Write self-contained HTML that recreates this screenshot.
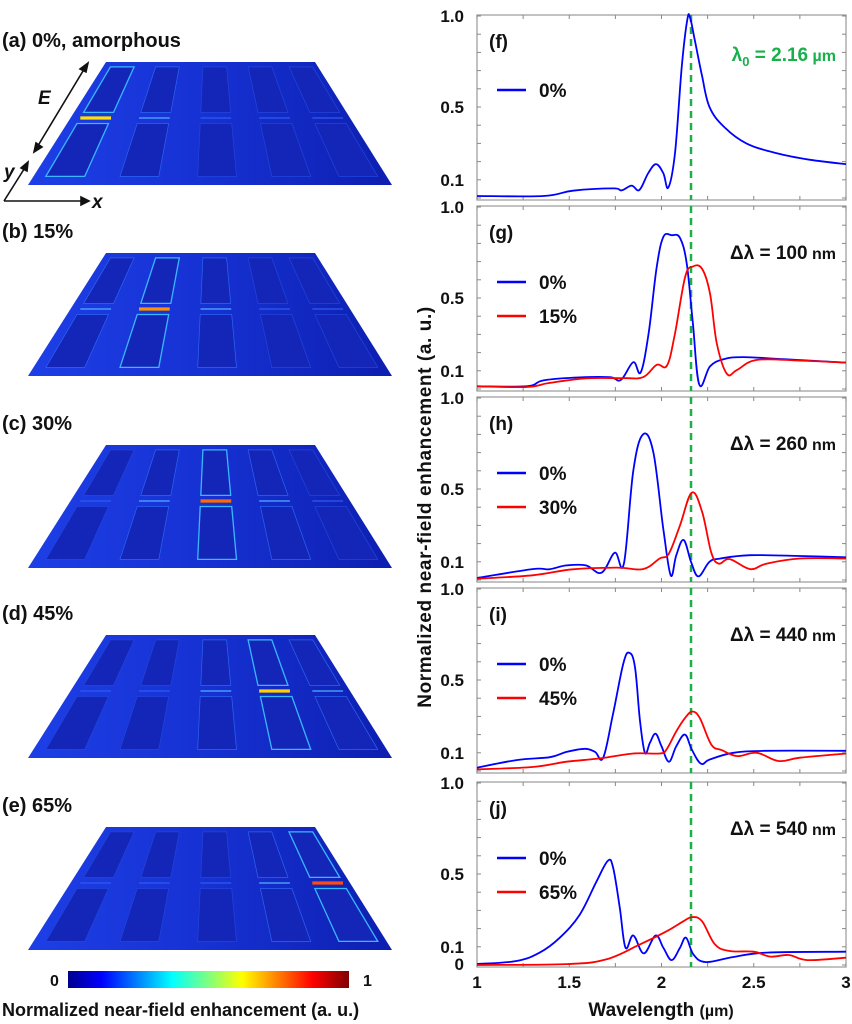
<!DOCTYPE html>
<html><head><meta charset="utf-8"><style>
html,body{margin:0;padding:0;background:#fff;}
svg{display:block;font-family:"Liberation Sans",Arial,sans-serif;font-weight:bold;}
</style></head><body>
<svg id="fig" width="852" height="1024" viewBox="0 0 852 1024" xmlns="http://www.w3.org/2000/svg">
<defs>
<linearGradient id="plate" x1="0" y1="0" x2="1" y2="0">
<stop offset="0" stop-color="#1d3fe6"/><stop offset="0.5" stop-color="#1631d2"/><stop offset="1" stop-color="#0d1fb0"/>
</linearGradient>
<linearGradient id="cbar" x1="0" y1="0" x2="1" y2="0">
<stop offset="0" stop-color="#00008f"/><stop offset="0.12" stop-color="#0000ff"/><stop offset="0.37" stop-color="#00ffff"/><stop offset="0.5" stop-color="#7fff7f"/><stop offset="0.62" stop-color="#ffff00"/><stop offset="0.87" stop-color="#ff0000"/><stop offset="1" stop-color="#800000"/>
</linearGradient>
</defs>
<g id="left"></g>
<g id="right"></g>
</svg>
<script>
// ---- spectral data (wavelength µm, normalized enhancement) ----
const fX0=[1,1.36,1.52,1.74,1.784,1.838,1.88,1.928,1.97,2.01,2.037,2.073,2.11,2.14,2.155,2.18,2.22,2.26,2.34,2.46,2.625,2.806,3.0];
const fY0=[0.011,0.011,0.04,0.053,0.042,0.068,0.044,0.136,0.186,0.136,0.057,0.246,0.724,0.98,0.99,0.87,0.67,0.50,0.39,0.30,0.246,0.21,0.186];
const gX0=[1,1.27,1.36,1.557,1.72,1.78,1.847,1.887,1.93,1.974,2.01,2.055,2.10,2.137,2.17,2.205,2.263,2.336,2.444,2.66,3.0];
const gY0=[0.015,0.015,0.047,0.064,0.065,0.05,0.147,0.091,0.305,0.67,0.835,0.845,0.83,0.687,0.36,0.024,0.124,0.164,0.175,0.164,0.145];
const gX15=[1,1.27,1.39,1.59,1.79,1.90,1.974,2.03,2.073,2.128,2.17,2.22,2.263,2.30,2.354,2.41,2.517,2.75,3.0];
const gY15=[0.015,0.011,0.033,0.058,0.06,0.065,0.133,0.129,0.305,0.615,0.673,0.66,0.524,0.25,0.084,0.105,0.16,0.156,0.145];
const hX0=[1,1.30,1.39,1.485,1.59,1.675,1.747,1.796,1.847,1.90,1.956,2.01,2.05,2.08,2.12,2.16,2.20,2.26,2.32,2.48,2.75,3.0];
const hY0=[0.011,0.06,0.059,0.08,0.08,0.04,0.15,0.09,0.6,0.80,0.70,0.28,0.026,0.136,0.22,0.10,0.02,0.10,0.118,0.136,0.132,0.125];
const hX30=[1,1.3,1.52,1.757,1.90,1.99,2.04,2.10,2.164,2.22,2.27,2.31,2.37,2.48,2.57,2.75,3.0];
const hY30=[0.007,0.026,0.059,0.068,0.06,0.118,0.145,0.30,0.48,0.375,0.15,0.09,0.115,0.06,0.09,0.118,0.118];
const iX0=[1,1.214,1.395,1.485,1.585,1.64,1.684,1.738,1.793,1.825,1.856,1.883,1.91,1.937,1.968,2.0,2.04,2.08,2.127,2.164,2.214,2.263,2.39,2.57,3.0];
const iY0=[0.018,0.06,0.076,0.105,0.122,0.105,0.073,0.318,0.59,0.65,0.573,0.28,0.1,0.155,0.205,0.136,0.051,0.136,0.2,0.118,0.04,0.064,0.1,0.111,0.111];
const iX45=[1,1.30,1.485,1.666,1.847,1.99,2.027,2.08,2.127,2.167,2.208,2.27,2.326,2.41,2.517,2.634,2.75,3.0];
const iY45=[0.009,0.022,0.051,0.069,0.096,0.096,0.118,0.218,0.29,0.327,0.29,0.145,0.115,0.082,0.1,0.055,0.073,0.096];
const jX0=[1,1.214,1.34,1.449,1.557,1.648,1.71,1.738,1.774,1.805,1.847,1.904,1.968,2.01,2.055,2.10,2.133,2.173,2.24,2.39,2.57,3.0];
const jY0=[0.005,0.022,0.068,0.15,0.277,0.46,0.573,0.533,0.314,0.095,0.162,0.064,0.162,0.095,0.027,0.095,0.15,0.058,0.016,0.044,0.068,0.073];
const jX65=[1,1.485,1.70,1.883,2.03,2.118,2.167,2.22,2.29,2.37,2.50,2.59,2.69,2.79,3.0];
const jY65=[0.0,0.005,0.031,0.113,0.186,0.24,0.263,0.24,0.113,0.077,0.073,0.046,0.055,0.027,0.04];
const xTicks=[1,1.5,2,2.5,3];
const xTickLabels=["1","1.5","2","2.5","3"];
const yTicks=[1.0,0.5,0.1];
const yTickLabels=["1.0","0.5","0.1"];
const lambda0=2.16;
const panelLabels=["(f)","(g)","(h)","(i)","(j)"];
const panelNotes=["λ0","Δλ = 100","Δλ = 260","Δλ = 440","Δλ = 540"];
const legendNames=[["0%"],["0%","15%"],["0%","30%"],["0%","45%"],["0%","65%"]];

const NS="http://www.w3.org/2000/svg";
function mk(tag,attrs,parent){const e=document.createElementNS(NS,tag);for(const k in attrs)e.setAttribute(k,attrs[k]);parent.appendChild(e);return e;}
const R=document.getElementById('right');
const X0=477,X1=846;
function sx(v){return X0+(v-1)/2*(X1-X0);}
const panels=[{y1:16,y0:198},{y1:207,y0:389},{y1:398,y0:580},{y1:589,y0:771},{y1:783,y0:965}];
const series=[[[fX0,fY0,'#0000ff']],[[gX0,gY0,'#0000ff'],[gX15,gY15,'#ff0000']],[[hX0,hY0,'#0000ff'],[hX30,hY30,'#ff0000']],[[iX0,iY0,'#0000ff'],[iX45,iY45,'#ff0000']],[[jX0,jY0,'#0000ff'],[jX65,jY65,'#ff0000']]];
function path(xs,ys,sy){
  const p=xs.map((x,i)=>[sx(x),sy(ys[i])]);
  let d='M'+p[0][0].toFixed(1)+','+p[0][1].toFixed(1);
  for(let i=0;i<p.length-1;i++){
    const a=p[Math.max(0,i-1)],b=p[i],c=p[i+1],e=p[Math.min(p.length-1,i+2)];
    const t=0.18;
    let c1=[b[0]+(c[0]-a[0])*t,b[1]+(c[1]-a[1])*t],c2=[c[0]-(e[0]-b[0])*t,c[1]-(e[1]-b[1])*t];
    c1[0]=Math.min(Math.max(c1[0],b[0]),c[0]);c2[0]=Math.min(Math.max(c2[0],b[0]),c[0]);
    d+=' C'+c1[0].toFixed(1)+','+c1[1].toFixed(1)+' '+c2[0].toFixed(1)+','+c2[1].toFixed(1)+' '+c[0].toFixed(1)+','+c[1].toFixed(1);
  }
  return d;
}
panels.forEach((P,k)=>{
  const g=mk('g',{},R);
  
  
  const sy=v=>P.y0-v*(P.y0-P.y1);
  const top=P.y1-1,bot=P.y0+2;
  const fr=mk('rect',{x:X0,y:top,width:X1-X0,height:bot-top,fill:'none',stroke:'#999',"stroke-width":1.2},g);
  
  
  for(let v=1;v<=3.001;v+=0.25){
    mk('line',{x1:sx(v),x2:sx(v),y1:bot,y2:bot-4,stroke:'#888'},g);
    mk('line',{x1:sx(v),x2:sx(v),y1:top,y2:top+4,stroke:'#888'},g);
  }
  for(let v=0;v<=1.001;v+=0.1){
    mk('line',{x1:X0,x2:X0+4,y1:sy(v),y2:sy(v),stroke:'#888'},g);
    mk('line',{x1:X1,x2:X1-4,y1:sy(v),y2:sy(v),stroke:'#888'},g);
  }
  yTicks.forEach((v,i)=>{
    const t=mk('text',{x:464,y:sy(v)+6,"text-anchor":"end","font-size":17,fill:'#111'},g);
    t.textContent=yTickLabels[i];
    
    
  });
  if(k===4){
    const t=mk('text',{x:464,y:sy(0)+5,"text-anchor":"end","font-size":17,fill:'#111'},g);
    t.textContent="0";
    
    
  }
  const dl=mk('line',{x1:sx(lambda0),x2:sx(lambda0),y1:top,y2:bot,stroke:'#1db04a',"stroke-width":2.5,"stroke-dasharray":"7,5"},g);
  
  
  series[k].forEach((s,si)=>{
    const pth=mk('path',{d:path(s[0],s[1],sy),fill:'none',stroke:s[2],"stroke-width":1.8,"stroke-linejoin":"round"},g);
    
    
  });
  const pl=mk('text',{x:489,y:P.y1+32,"font-size":19,fill:'#111'},g);
  pl.textContent=panelLabels[k];
  
  
  const leg=k===0?[P.y1+74]:[P.y1+75,P.y1+109];
  legendNames[k].forEach((n,i)=>{
    const le=mk('g',{},g);
    
    
    mk('line',{x1:497,x2:526,y1:leg[i],y2:leg[i],stroke:i?'#ff0000':'#0000ff',"stroke-width":2.5},le);
    const t=mk('text',{x:539,y:leg[i]+7,"font-size":19,fill:'#111'},le);
    t.textContent=n;
  });
  if(k===0){
    const t=mk('text',{x:836,y:61,"text-anchor":"end","font-size":19,fill:'#18b04a'},g);
    t.innerHTML='λ<tspan font-size="13" dy="5">0</tspan><tspan dy="-5"> = 2.16</tspan><tspan font-size="16"> µm</tspan>';
    
    
  } else {
    const t=mk('text',{x:836,y:P.y1+52,"text-anchor":"end","font-size":19,fill:'#111'},g);
    t.innerHTML=panelNotes[k]+'<tspan font-size="16"> nm</tspan>';
    
    
  }
  if(k===4){
    xTicks.forEach((v,i)=>{
      const t=mk('text',{x:sx(v),y:988,"text-anchor":"middle","font-size":17,fill:'#111'},g);
      t.textContent=xTickLabels[i];
      
      
    });
  }
});
const xt=mk('text',{x:661,y:1016,"text-anchor":"middle","font-size":19,fill:'#111'},R);
xt.innerHTML='Wavelength <tspan font-size="16">(µm)</tspan>';


const yt=mk('text',{x:0,y:0,"text-anchor":"middle","font-size":19,"letter-spacing":"0.6",fill:'#111',transform:'translate(431,507) rotate(-90)'},R);
yt.textContent='Normalized  near-field  enhancement  (a. u.)';



// ---- left field maps ----
const L=document.getElementById('left');
const tops=[62,253,445,635,827];
const titles=["(a) 0%, amorphous","(b) 15%","(c) 30%","(d) 45%","(e) 65%"];
const hot=[0,1,2,3,4];
const hotColor=['#ffe000','#ff9000','#ff6a00','#ffd000','#ff4a10'];
const colU=[0.09,0.30,0.52,0.73,0.92];
tops.forEach((T,k)=>{
  const g=mk('g',{},L);
  
  
  const H=123;
  const P=(u,v)=>{const xl=106+(28-106)*v,xr=315+(392-315)*v;return [xl+u*(xr-xl),T+v*H];};
  const poly=pts=>pts.map(p=>p[0].toFixed(1)+','+p[1].toFixed(1)).join(' ');
  const t=mk('text',{x:2,y:T-15,"font-size":20,fill:'#111'},g);
  t.textContent=titles[k];
  
  
  mk('polygon',{points:poly([P(0,0),P(1,0),P(1,1),P(0,1)]),fill:'url(#plate)'},g);
  colU.forEach((u,ci)=>{
    const w=0.055,d=Math.abs(ci-hot[k]);
    const edge=d===0?'#38b8ff':(d===1?'#2c64f4':'#2244dc');
    const rods=[[0.04,0.41],[0.50,0.93]];
    rods.forEach(r=>{
      const rp=mk('polygon',{points:poly([P(u-w,r[0]),P(u+w,r[0]),P(u+w,r[1]),P(u-w,r[1])]),fill:'#1426b8',stroke:edge,"stroke-width":d===0?1.3:0.7},g);
      
      
    });
    const a=P(u-w,0.455),b=P(u+w,0.455);
    const gap=mk('line',{x1:a[0],y1:a[1],x2:b[0],y2:b[1],stroke:d===0?hotColor[k]:(d===1?'#50b0ff':'#2e5cf0'),"stroke-width":d===0?3.2:1.3},g);
    
    
  });
});
const ax=mk('g',{stroke:'#111',"stroke-width":1.6,fill:'#111'},L);


mk('line',{x1:36,y1:149,x2:86,y2:66},ax);
mk('polygon',{points:'88,63 80,69 86,72'},ax);
mk('polygon',{points:'34,152 36,143 42,147'},ax);
mk('line',{x1:4,y1:201,x2:26,y2:166},ax);
mk('polygon',{points:'28,162 21,168 27,171'},ax);
mk('line',{x1:4,y1:201,x2:84,y2:201},ax);
mk('polygon',{points:'89,201 81,197 81,205'},ax);
[['E',38,104],['y',4,178],['x',92,208]].forEach(a=>{
  const t=mk('text',{x:a[1],y:a[2],"font-size":19,"font-style":"italic",fill:'#111'},L);
  t.textContent=a[0];
  
  
});
const cb=mk('rect',{x:68,y:971,width:281,height:17,fill:'url(#cbar)'},L);


[['0',50],['1',363]].forEach(a=>{
  const t=mk('text',{x:a[1],y:986,"font-size":16,fill:'#111'},L);
  t.textContent=a[0];
  
  
});
const ct=mk('text',{x:2,y:1016,"font-size":18,fill:'#111'},L);
ct.textContent='Normalized  near-field  enhancement  (a. u.)';


</script>
</body></html>
